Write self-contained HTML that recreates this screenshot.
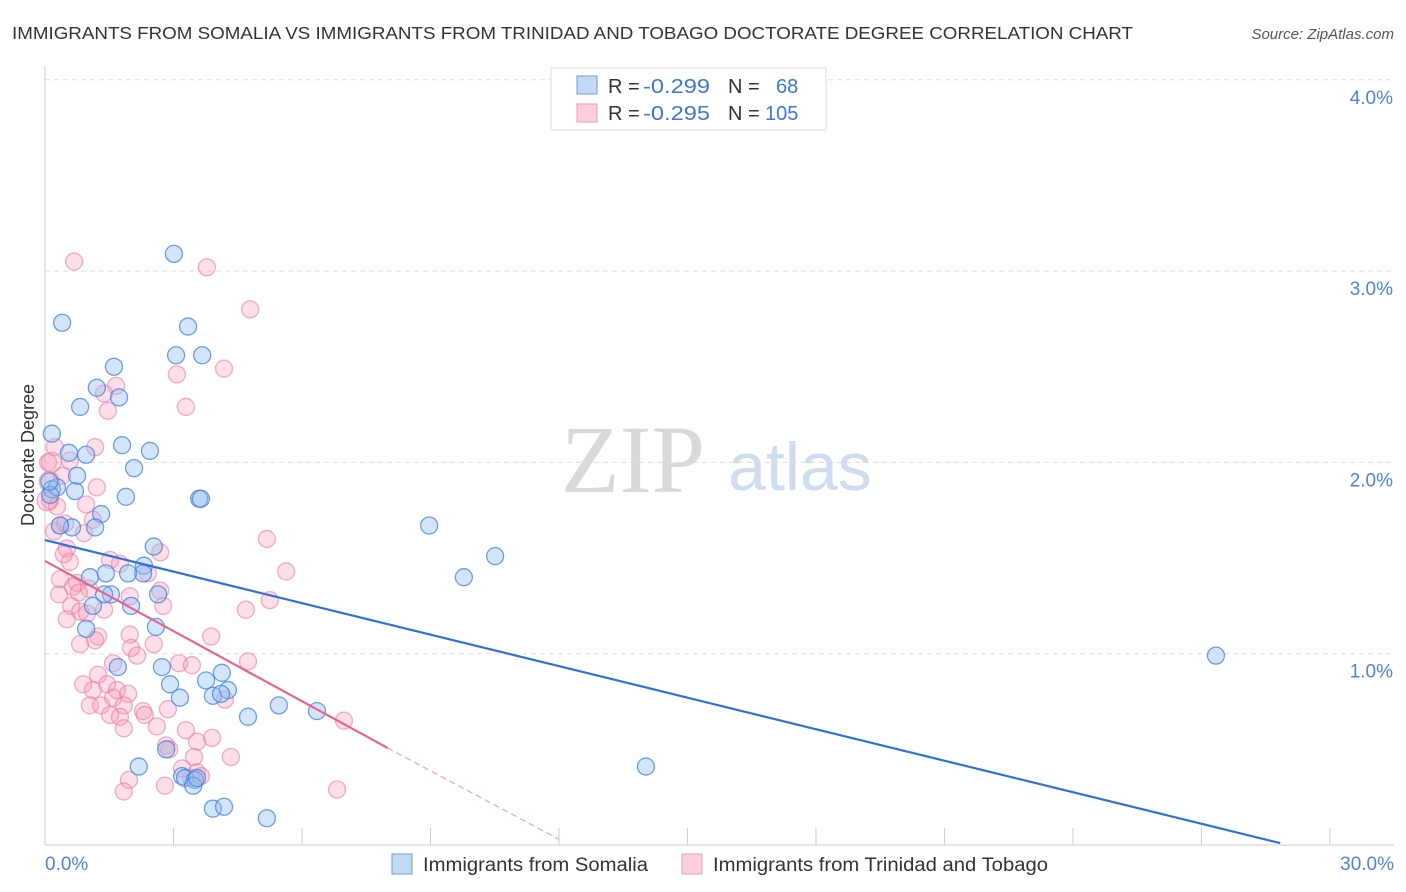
<!DOCTYPE html>
<html><head><meta charset="utf-8"><style>
body{margin:0;background:#fff;font-family:"Liberation Sans",sans-serif;}
#wrap{position:relative;width:1406px;height:892px;overflow:hidden;}
</style></head><body>
<div id="wrap">
<svg id="svg" width="1406" height="892" xmlns="http://www.w3.org/2000/svg">
<text x="12" y="39" font-size="17.5" fill="#333" textLength="1121" lengthAdjust="spacingAndGlyphs">IMMIGRANTS FROM SOMALIA VS IMMIGRANTS FROM TRINIDAD AND TOBAGO DOCTORATE DEGREE CORRELATION CHART</text>
<text x="1394" y="39" font-size="15" fill="#555" font-style="italic" text-anchor="end">Source: ZipAtlas.com</text>
<text x="633" y="492" font-size="96" fill="#d8d8d8" font-family="Liberation Serif,serif" text-anchor="middle">ZIP</text>
<text x="800" y="490" font-size="68" fill="#cfdcf0" text-anchor="middle">atlas</text>
<text transform="translate(34,455) rotate(-90)" font-size="18" fill="#333" text-anchor="middle">Doctorate Degree</text>
<g id="grid"></g><g id="marks"></g><g id="lines"></g>
<g>
<rect x="551" y="68" width="275" height="62" fill="#fff" stroke="#ddd"/>
<rect x="577" y="76" width="20" height="18" fill="#c5d9f5" stroke="#6a9ee0"/>
<rect x="577" y="104" width="20" height="18" fill="#fbd0dc" stroke="#f09ab4"/>
<text x="608" y="93" font-size="20" fill="#333">R = <tspan x="643" fill="#3a78d8" textLength="67" lengthAdjust="spacingAndGlyphs">-0.299</tspan><tspan x="728">N = </tspan><tspan x="776" fill="#3a78d8">68</tspan></text>
<text x="608" y="120" font-size="20" fill="#333">R = <tspan x="643" fill="#3a78d8" textLength="67" lengthAdjust="spacingAndGlyphs">-0.295</tspan><tspan x="728">N = </tspan><tspan x="765" fill="#3a78d8">105</tspan></text>
</g>
<g>
<rect x="392" y="854" width="20" height="20" fill="#c5d9f5" stroke="#6a9ee0"/>
<text x="423" y="871" font-size="19" fill="#333" textLength="225" lengthAdjust="spacingAndGlyphs">Immigrants from Somalia</text>
<rect x="682" y="854" width="20" height="20" fill="#fbd0dc" stroke="#f09ab4"/>
<text x="713" y="871" font-size="19" fill="#333" textLength="335" lengthAdjust="spacingAndGlyphs">Immigrants from Trinidad and Tobago</text>
</g>
</svg>
</div>
<script>
const xTickValues=[0,3,6,9,12,15,18,21,24,27,30];
const yTickValues=[1,2,3,4];
const yTickLabels=["1.0%","2.0%","3.0%","4.0%"];
const xEndLabels=["0.0%","30.0%"];
const somaliaX=[3.01,0.40,3.34,3.06,3.67,1.61,1.21,1.73,0.82,1.80,2.45,0.56,0.96,2.08,0.75,0.16,0.16,0.28,0.70,1.89,3.60,3.64,1.31,0.63,1.17,0.35,8.97,2.54,10.51,2.31,2.29,1.05,1.42,1.94,9.78,1.54,2.64,1.38,1.12,2.01,2.59,0.96,1.70,2.73,4.13,2.92,3.76,3.15,4.27,3.92,4.11,5.46,6.35,4.74,27.34,14.03,2.19,2.83,3.20,3.27,3.50,3.46,3.55,3.92,4.18,5.18,0.12,0.10];
const somaliaY=[3.09,2.73,2.71,2.56,2.56,2.50,2.39,2.34,2.29,2.09,2.06,2.05,2.04,1.97,1.93,2.15,1.86,1.87,1.85,1.82,1.81,1.81,1.73,1.66,1.66,1.67,1.67,1.56,1.51,1.46,1.42,1.40,1.42,1.42,1.40,1.31,1.31,1.31,1.25,1.25,1.14,1.13,0.93,0.93,0.90,0.84,0.86,0.77,0.81,0.78,0.79,0.73,0.70,0.67,0.99,0.41,0.41,0.50,0.36,0.35,0.34,0.31,0.35,0.19,0.20,0.14,1.83,1.90];
const trinX=[0.68,3.78,4.79,3.08,4.18,1.66,1.38,3.29,1.47,1.17,0.23,0.58,0.07,0.40,1.21,0.12,0.28,0.96,1.12,0.35,0.47,0.91,0.21,5.18,0.51,2.69,0.44,0.58,1.52,1.75,5.63,2.40,0.35,0.75,0.65,1.03,2.69,0.79,0.33,1.98,5.25,0.61,2.76,1.38,4.69,0.82,0.51,0.98,1.24,1.98,3.88,0.82,1.17,2.01,2.54,2.15,3.13,1.59,4.74,3.43,1.24,0.89,1.45,1.68,1.94,1.12,1.59,4.20,1.05,1.31,1.84,2.87,2.29,1.52,1.75,2.33,6.98,2.61,1.84,3.29,3.90,3.55,2.83,2.90,3.48,4.34,3.20,3.55,3.64,1.96,3.41,2.80,1.84,6.82,0.10,0.05,0.15];
const trinY=[3.05,3.02,2.80,2.46,2.49,2.40,2.36,2.29,2.27,2.08,2.08,2.01,2.00,1.93,1.87,1.80,1.77,1.78,1.70,1.67,1.68,1.63,1.64,1.60,1.55,1.53,1.52,1.48,1.49,1.47,1.43,1.42,1.39,1.37,1.35,1.34,1.33,1.32,1.31,1.30,1.28,1.25,1.25,1.23,1.23,1.22,1.18,1.21,1.09,1.10,1.09,1.05,1.07,1.03,1.05,0.99,0.95,0.95,0.96,0.94,0.89,0.84,0.84,0.81,0.79,0.81,0.77,0.76,0.73,0.73,0.73,0.71,0.70,0.68,0.67,0.68,0.65,0.62,0.61,0.60,0.56,0.54,0.52,0.50,0.46,0.46,0.40,0.38,0.36,0.34,0.35,0.31,0.28,0.29,1.90,1.80,2.00];
const somaliaTrend=[1.594,0.01];const somaliaTrendX=[0,28.84];
const trinTrend=[1.485,0.507,0.03];const trinTrendX=[0,8.0,12.0];
const X=v=>45+v*42.83, Y=v=>845-v*191.3;
const NS='http://www.w3.org/2000/svg';
function mk(t,a,p){const e=document.createElementNS(NS,t);for(const k in a)e.setAttribute(k,a[k]);p.appendChild(e);return e;}
const grid=document.getElementById('grid'),marks=document.getElementById('marks'),lines=document.getElementById('lines'),svg=document.getElementById('svg');
yTickValues.forEach((v,i)=>{
 const l=mk('line',{x1:45,x2:1394,y1:Y(v),y2:Y(v),stroke:'#ddd','stroke-dasharray':'5,4'},grid);
 
 
 const t=mk('text',{x:1393,y:Y(v)+24,'font-size':19,fill:'#4a86d8','text-anchor':'end'},grid);t.textContent=yTickLabels[i];
 
 
});
const ax=mk('line',{x1:45,x2:1394,y1:845,y2:845,stroke:'#ccc'},grid);


const ay=mk('line',{x1:45,x2:45,y1:66,y2:845,stroke:'#ccc'},grid);


xTickValues.forEach(v=>{const t=mk('line',{x1:X(v),x2:X(v),y1:828,y2:845,stroke:'#ccc'},grid);
 
 });
[[0,'start',45],[30,'end',1394]].forEach((d,i)=>{const t=mk('text',{x:d[2],y:870,'font-size':19,fill:'#4a86d8','text-anchor':d[1]},grid);t.textContent=xEndLabels[i];
 
 });
trinX.forEach((x,i)=>{const c=mk('circle',{cx:X(x),cy:Y(trinY[i]),r:i>=trinX.length-3?10:8.5,fill:'rgba(245,150,180,0.3)',stroke:'rgba(236,120,160,0.6)','stroke-width':1.3},marks);
 
 });
somaliaX.forEach((x,i)=>{const c=mk('circle',{cx:X(x),cy:Y(somaliaY[i]),r:8.5,fill:'rgba(150,190,240,0.4)',stroke:'rgba(60,130,220,0.75)','stroke-width':1.3},marks);
 
 });
const bl=mk('line',{x1:X(somaliaTrendX[0]),y1:Y(somaliaTrend[0]),x2:X(somaliaTrendX[1]),y2:Y(somaliaTrend[1]),stroke:'#2f72d6','stroke-width':2.2},lines);


const pl=mk('line',{x1:X(trinTrendX[0]),y1:Y(trinTrend[0]),x2:X(trinTrendX[1]),y2:Y(trinTrend[1]),stroke:'#e8648e','stroke-width':2.2},lines);


const pd=mk('line',{x1:X(trinTrendX[1]),y1:Y(trinTrend[1]),x2:X(trinTrendX[2]),y2:Y(trinTrend[2]),stroke:'#eea0b8','stroke-width':1.2,'stroke-dasharray':'6,4'},lines);


</script>
</body></html>
